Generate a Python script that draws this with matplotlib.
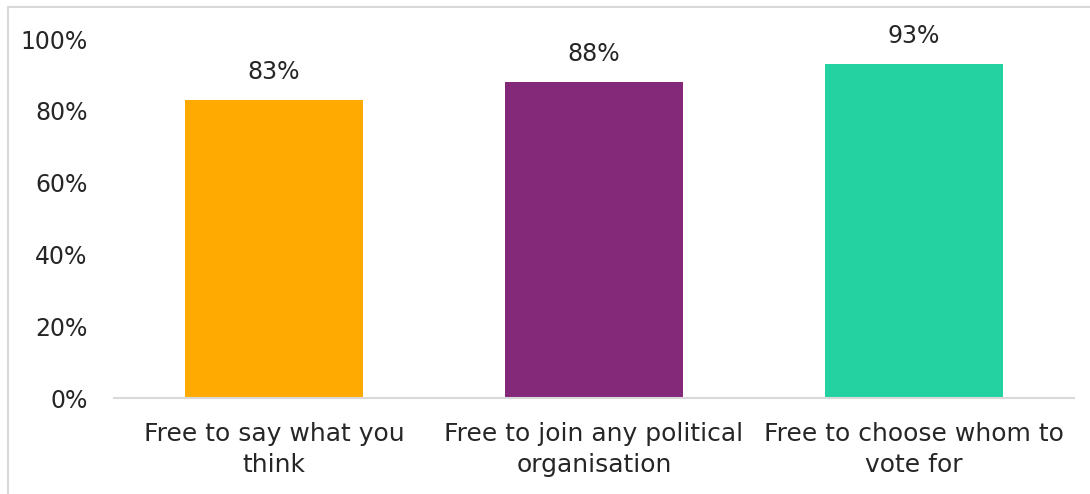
import matplotlib.pyplot as plt
from matplotlib.lines import Line2D

categories = ["Free to say what you\nthink",
              "Free to join any political\norganisation",
              "Free to choose whom to\nvote for"]
values = [83, 88, 93]
colors = ["#FFAA00", "#84287A", "#24D2A1"]
yticks = [0, 20, 40, 60, 80, 100]

plt.rcParams["font.family"] = ["DejaVu Sans"]

fig = plt.figure(figsize=(10.9, 4.94), dpi=100)
ax = fig.add_axes([0.1046, 0.1943, 0.8807, 0.7267])

x = range(len(categories))
bars = ax.bar(x, values, width=0.556, color=colors)
for b, v in zip(bars, values):
    ax.text(b.get_x() + b.get_width() / 2, v + 4.5, f"{v}%",
            ha="center", va="bottom", fontsize=17, color="#262626")

ax.set_xlim(-0.5, 2.5)
ax.set_ylim(0, 100)
ax.set_yticks(yticks)
ax.set_yticklabels([f"{t}%" for t in yticks])
ax.set_xticks(list(x))
ax.set_xticklabels(categories, linespacing=1.4, fontsize=18)
ax.tick_params(axis="both", length=0, colors="#262626")
ax.tick_params(axis="y", pad=19, labelsize=17)
ax.tick_params(axis="x", pad=17)

for side in ["top", "right", "left"]:
    ax.spines[side].set_visible(False)
ax.spines["bottom"].set_color("#D9D9D9")
ax.spines["bottom"].set_linewidth(1.5)

# frame edges along top and left of the chart area
fx, fy = 7.5 / 1090, 1 - 7.5 / 494
fig.add_artist(Line2D([fx, 1], [fy, fy], transform=fig.transFigure,
                      color="#D9D9D9", linewidth=1.5))
fig.add_artist(Line2D([fx, fx], [0, fy], transform=fig.transFigure,
                      color="#D9D9D9", linewidth=1.5))

fig.savefig("out.png", dpi=100)
